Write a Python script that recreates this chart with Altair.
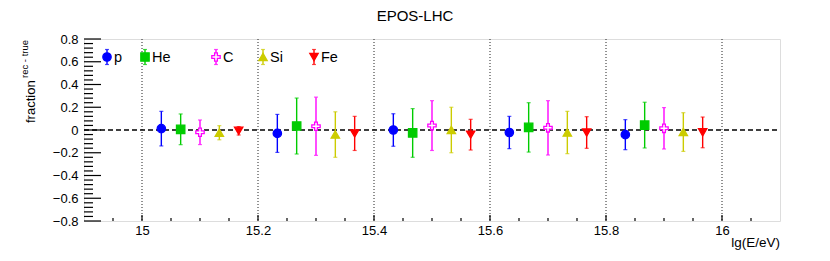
import altair as alt
import pandas as pd

# ---------------- data ----------------
bins = [15.0, 15.2, 15.4, 15.6, 15.8]
species = ["p", "He", "C", "Si", "Fe"]

p_val = [0.012, -0.030, 0.000, -0.022, -0.041]
p_err = [0.152, 0.167, 0.143, 0.142, 0.132]
he_val = [0.006, 0.035, -0.026, 0.023, 0.043]
he_err = [0.135, 0.246, 0.214, 0.217, 0.201]
c_val = [-0.020, 0.033, 0.039, 0.019, 0.015]
c_err = [0.108, 0.256, 0.219, 0.239, 0.182]
si_val = [-0.024, -0.040, 0.000, -0.022, -0.018]
si_err = [0.062, 0.200, 0.200, 0.186, 0.170]
fe_val = [-0.007, -0.030, -0.041, -0.022, -0.021]
fe_err = [0.037, 0.150, 0.135, 0.139, 0.135]

x_major = [15.0, 15.2, 15.4, 15.6, 15.8, 16.0]
x_minor = [14.95, 15.05, 15.1, 15.15, 15.25, 15.3, 15.35, 15.45, 15.5, 15.55,
           15.65, 15.7, 15.75, 15.85, 15.9, 15.95, 16.05]
y_major = [-0.8, -0.6, -0.4, -0.2, 0.0, 0.2, 0.4, 0.6, 0.8]
y_minor = [round(-0.8 + 0.04 * i, 2) for i in range(41) if i % 5 != 0]

title_text = "EPOS-LHC"
x_title = "lg(E/eV)"
y_title_main = "fraction"
y_title_sup = "rec - true"

# ---------------- styles ----------------
colors = ["#0000ff", "#00cc00", "#ff00ff", "#cccc00", "#ff0000"]
fills = ["#0000ff", "#00cc00", "#ffffff", "#cccc00", "#ff0000"]
cross_path = "M-1,-0.33H-0.33V-1H0.33V-0.33H1V0.33H0.33V1H-0.33V0.33H-1Z"
shapes = ["circle", "square", cross_path, "triangle-up", "triangle-down"]
FONT = "Liberation Sans"
W, H = 696, 182

vals = {"p": p_val, "He": he_val, "C": c_val, "Si": si_val, "Fe": fe_val}
errs = {"p": p_err, "He": he_err, "C": c_err, "Si": si_err, "Fe": fe_err}
rows = []
for k, sp in enumerate(species):
    for b, v, e in zip(bins, vals[sp], errs[sp]):
        rows.append({"species": sp, "x": b + (k + 1) * 0.2 / 6, "y": v,
                     "lo": v - e, "hi": v + e})
df = pd.DataFrame(rows)

xs = alt.Scale(domain=[14.9, 16.1], nice=False, zero=False)
ys = alt.Scale(domain=[-0.8, 0.8], nice=False, zero=False)
stroke_s = alt.Scale(domain=species, range=colors)
fill_s = alt.Scale(domain=species, range=fills)
shape_s = alt.Scale(domain=species, range=shapes)

xax = alt.Axis(values=x_major, format="~g", title=None, ticks=False, tickSize=0,
               domain=False, grid=False, labelOverlap=False, labelFont=FONT,
               labelFontSize=13, labelPadding=3, labelColor="#000")
yax = alt.Axis(values=y_major, format=".1~f", title=None, ticks=False, tickSize=0,
               domain=False, grid=False, labelOverlap=False, labelFont=FONT,
               labelFontSize=13, labelPadding=6, labelColor="#000")

def X(f):
    return alt.X(f, scale=xs, axis=xax)

def Y(f):
    return alt.Y(f, scale=ys, axis=yax)

# grid
grid = alt.Chart(pd.DataFrame({"g": x_major})).mark_rule(
    color="#222", strokeWidth=1, strokeDash=[1, 2]
).encode(x=X("g:Q"))

zero = alt.Chart(pd.DataFrame({"z": [0.0]})).mark_rule(
    color="#000", strokeWidth=1.5, strokeDash=[5, 3]
).encode(y=Y("z:Q"), x=alt.value(0), x2=alt.value(W))

ymaj = alt.Chart(pd.DataFrame({"t": y_major})).mark_rule(color="#000", strokeWidth=1.2).encode(
    y=Y("t:Q"), x=alt.value(0), x2=alt.value(17))
ymin = alt.Chart(pd.DataFrame({"t": y_minor})).mark_rule(color="#000", strokeWidth=1.2).encode(
    y=Y("t:Q"), x=alt.value(0), x2=alt.value(9))
xmaj = alt.Chart(pd.DataFrame({"t": x_major})).mark_rule(color="#000", strokeWidth=1.2).encode(
    x=X("t:Q"), y=alt.value(H), y2=alt.value(H - 6))
xmin = alt.Chart(pd.DataFrame({"t": x_minor})).mark_rule(color="#000", strokeWidth=1.2).encode(
    x=X("t:Q"), y=alt.value(H), y2=alt.value(H - 3))

base = alt.Chart(df)
bars = base.mark_rule(strokeWidth=1.4).encode(
    x=X("x:Q"), y=Y("lo:Q"), y2="hi:Q",
    stroke=alt.Stroke("species:N", scale=stroke_s, legend=None))
cap_lo = base.mark_tick(orient="horizontal", size=4, thickness=1.2).encode(
    x=X("x:Q"), y=Y("lo:Q"),
    color=alt.Color("species:N", scale=stroke_s, legend=None))
cap_hi = base.mark_tick(orient="horizontal", size=4, thickness=1.2).encode(
    x=X("x:Q"), y=Y("hi:Q"),
    color=alt.Color("species:N", scale=stroke_s, legend=None))
pts = base.mark_point(filled=True, opacity=1, size=70, strokeWidth=1.3).encode(
    x=X("x:Q"), y=Y("y:Q"),
    shape=alt.Shape("species:N", scale=shape_s, legend=None),
    fill=alt.Fill("species:N", scale=fill_s, legend=None),
    stroke=alt.Stroke("species:N", scale=stroke_s, legend=None))

# legend (pixel layout)
legend_px = [23, 61, 132, 179, 230]
ldf = pd.DataFrame({"species": species, "lx": legend_px})
ldf["tx"] = ldf["lx"] + 7
LY = 18
lbase = alt.Chart(ldf)
lbar = lbase.mark_rule(strokeWidth=1.4).encode(
    x=alt.X("lx:Q", scale=None), y=alt.value(LY - 7.5), y2=alt.value(LY + 7.5),
    stroke=alt.Stroke("species:N", scale=stroke_s, legend=None))
lcap1 = lbase.mark_tick(orient="horizontal", size=4, thickness=1.2).encode(
    x=alt.X("lx:Q", scale=None), y=alt.value(LY - 7.5),
    color=alt.Color("species:N", scale=stroke_s, legend=None))
lcap2 = lbase.mark_tick(orient="horizontal", size=4, thickness=1.2).encode(
    x=alt.X("lx:Q", scale=None), y=alt.value(LY + 7.5),
    color=alt.Color("species:N", scale=stroke_s, legend=None))
lpts = lbase.mark_point(filled=True, opacity=1, size=70, strokeWidth=1.3).encode(
    x=alt.X("lx:Q", scale=None), y=alt.value(LY),
    shape=alt.Shape("species:N", scale=shape_s, legend=None),
    fill=alt.Fill("species:N", scale=fill_s, legend=None),
    stroke=alt.Stroke("species:N", scale=stroke_s, legend=None))
ltxt = lbase.mark_text(align="left", baseline="middle", font=FONT, fontSize=14.5, color="#000").encode(
    x=alt.X("tx:Q", scale=None), y=alt.value(LY + 0.5), text="species:N")

def label(txt, x, y, size, align="center", baseline="middle", angle=0):
    return alt.Chart(pd.DataFrame({"t": [txt]})).mark_text(
        font=FONT, fontSize=size, align=align, baseline=baseline, angle=angle, color="#000"
    ).encode(text="t:N", x=alt.value(x), y=alt.value(y))

title = label(title_text, 331, -23, 15)
xt = label(x_title, W, 208, 13.5, align="right", baseline="alphabetic")
yt1 = label(y_title_main, -49, 84, 13, align="left", baseline="alphabetic", angle=270)
yt2 = label(y_title_sup, -56, 39, 9.5, align="left", baseline="alphabetic", angle=270)

chart = alt.layer(
    grid, zero, ymaj, ymin, xmaj, xmin, bars, cap_lo, cap_hi, pts,
    lbar, lcap1, lcap2, lpts, ltxt, title, xt, yt1, yt2
).properties(
    width=W, height=H,
    autosize=alt.AutoSizeParams(type="none"),
    padding={"left": 76, "top": 31, "right": 42, "bottom": 34},
).configure_view(stroke="#000", strokeWidth=1.3).configure(background="#ffffff")

chart.save("out.html", embed_options={"renderer": "svg", "actions": False})
